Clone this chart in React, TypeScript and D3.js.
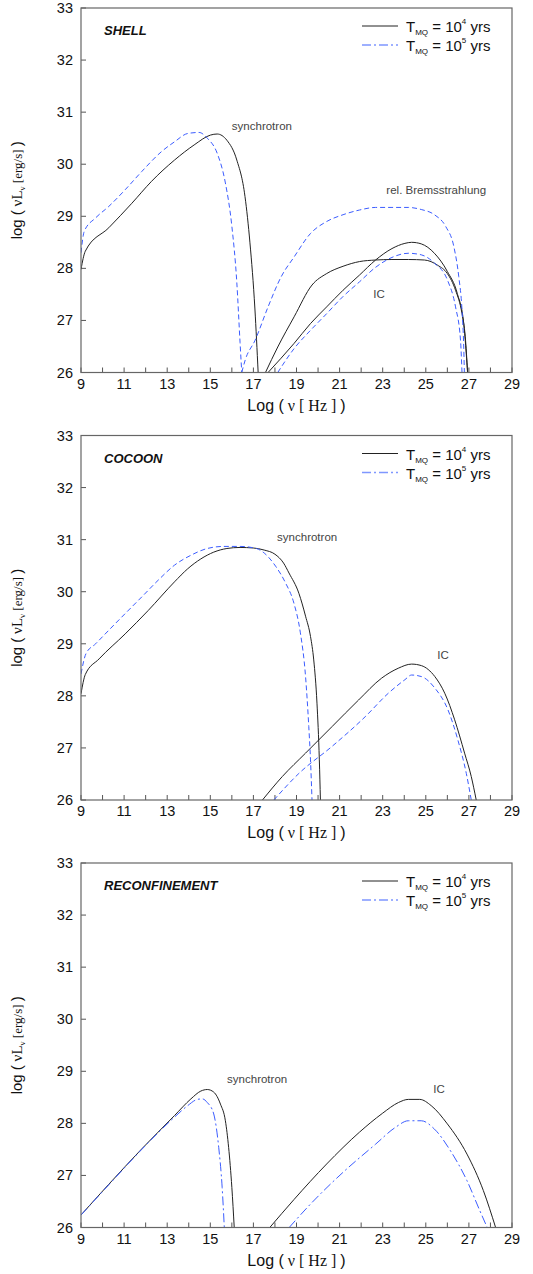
import React from "react";
import * as d3 from "d3";

// axis values
const xTickLabels = [9, 11, 13, 15, 17, 19, 21, 23, 25, 27, 29];
const yTickLabels = [26, 27, 28, 29, 30, 31, 32, 33];

// SHELL panel: [log nu, log nuL_nu]
const shellSync4: [number, number][] = [
  [9, 27.98], [9.2, 28.33], [10.29, 28.78], [11.36, 29.25], [12.27, 29.67], [13.34, 30.08],
  [14.25, 30.37], [15.01, 30.56], [15.32, 30.58], [15.77, 30.46], [16.23, 30.08],
  [16.61, 29.38], [16.84, 28.49], [17.07, 27.22], [17.22, 26.0],
];
const shellSync5: [number, number][] = [
  [9, 28.3], [9.15, 28.71], [9.68, 28.97], [10.29, 29.19], [11.05, 29.51], [11.82, 29.86],
  [12.73, 30.24], [13.34, 30.43], [13.95, 30.59], [14.48, 30.61], [14.86, 30.5],
  [15.32, 30.21], [15.7, 29.64], [16.0, 28.81], [16.23, 27.73], [16.38, 26.58], [16.46, 26.0],
];
const shellBrems4: [number, number][] = [
  [17.56, 26.0], [18.13, 26.49], [18.89, 27.07], [19.72, 27.68], [20.4, 27.9], [21.16, 28.04],
  [21.92, 28.13], [22.67, 28.16], [23.43, 28.17], [24.19, 28.17], [24.94, 28.16],
  [25.55, 28.06], [26.0, 27.9], [26.38, 27.58], [26.68, 27.13], [26.83, 26.69], [26.94, 26.0],
];
const shellBrems5: [number, number][] = [
  [16.46, 26.0], [16.62, 26.24], [17.08, 26.62], [17.68, 27.26], [18.29, 27.84], [18.89, 28.22],
  [19.65, 28.67], [20.4, 28.9], [21.16, 29.03], [21.92, 29.12], [22.67, 29.17], [23.43, 29.17],
  [24.19, 29.17], [24.79, 29.13], [25.4, 29.03], [25.93, 28.8], [26.3, 28.42], [26.53, 27.84],
  [26.68, 27.2], [26.76, 26.49], [26.79, 26.0],
];
const shellIC4: [number, number][] = [
  [17.68, 26.0], [18.89, 26.56], [19.65, 26.94], [20.4, 27.26], [21.16, 27.58], [21.92, 27.87],
  [22.67, 28.16], [23.43, 28.38], [24.03, 28.48], [24.34, 28.5], [24.79, 28.47], [25.4, 28.29],
  [26.0, 27.94], [26.46, 27.52], [26.76, 26.94], [26.94, 26.0],
];
const shellIC5: [number, number][] = [
  [18.13, 26.0], [18.89, 26.46], [19.65, 26.81], [20.4, 27.13], [21.16, 27.46], [21.92, 27.74],
  [22.67, 28.02], [23.43, 28.21], [24.19, 28.29], [24.79, 28.26], [25.4, 28.1], [26.0, 27.78],
  [26.38, 27.26], [26.61, 26.62], [26.68, 26.0],
];

// COCOON panel
const cocoonSync4: [number, number][] = [
  [9, 28.04], [9.2, 28.41], [9.84, 28.71], [11.05, 29.19], [12.12, 29.64], [13.34, 30.19],
  [13.95, 30.44], [14.56, 30.63], [15.16, 30.76], [15.77, 30.83], [16.38, 30.85],
  [16.99, 30.84], [17.5, 30.8], [18.0, 30.72], [18.4, 30.55], [18.65, 30.36], [19.11, 29.97],
  [19.42, 29.53], [19.65, 29.14], [19.8, 28.69], [19.95, 27.86], [20.06, 26.77], [20.11, 26.0],
];
const cocoonSync5: [number, number][] = [
  [9, 28.42], [9.23, 28.81], [9.68, 29.0], [10.29, 29.26], [11.05, 29.58], [11.82, 29.9],
  [12.58, 30.22], [13.34, 30.51], [14.1, 30.7], [14.86, 30.83], [15.62, 30.87], [16.38, 30.87],
  [17.14, 30.83], [17.45, 30.76], [18.03, 30.49], [18.49, 30.17], [18.88, 29.78],
  [19.18, 29.21], [19.42, 28.37], [19.57, 27.41], [19.65, 26.77], [19.72, 26.0],
];
const cocoonIC4: [number, number][] = [
  [17.42, 26.0], [18.34, 26.45], [19.42, 26.9], [20.65, 27.41], [21.88, 27.92], [22.95, 28.34],
  [23.72, 28.53], [24.34, 28.61], [24.8, 28.58], [25.42, 28.37], [25.88, 28.05],
  [26.34, 27.54], [26.8, 26.9], [27.11, 26.45], [27.34, 26.0],
];
const cocoonIC5: [number, number][] = [
  [17.95, 26.0], [19.11, 26.51], [20.65, 27.03], [22.19, 27.6], [23.26, 28.05], [24.03, 28.31],
  [24.34, 28.4], [24.8, 28.37], [25.42, 28.15], [26.03, 27.73], [26.49, 27.15],
  [26.88, 26.51], [27.11, 26.0],
];

// RECONFINEMENT panel
const reconfSync4: [number, number][] = [
  [9, 26.24], [10.29, 26.83], [11.82, 27.51], [13.34, 28.15], [14.1, 28.47], [14.56, 28.62],
  [14.86, 28.65], [15.16, 28.6], [15.47, 28.37], [15.7, 28.05], [15.85, 27.54], [16.0, 26.77],
  [16.11, 26.0],
];
const reconfSync5: [number, number][] = [
  [9, 26.24], [10.29, 26.82], [11.82, 27.5], [13.34, 28.12], [13.95, 28.34], [14.4, 28.46],
  [14.63, 28.47], [14.86, 28.4], [15.16, 28.18], [15.39, 27.54], [15.55, 26.77], [15.65, 26.0],
];
const reconfIC4: [number, number][] = [
  [17.76, 26.0], [18.89, 26.54], [20.4, 27.22], [21.92, 27.83], [22.98, 28.19], [23.73, 28.4],
  [24.19, 28.46], [24.72, 28.46], [25.25, 28.34], [26.0, 27.99], [26.91, 27.41],
  [27.67, 26.71], [28.24, 26.0],
];
const reconfIC5: [number, number][] = [
  [18.66, 26.0], [19.65, 26.45], [21.16, 27.06], [22.67, 27.6], [23.58, 27.92], [24.19, 28.05],
  [24.79, 28.05], [25.4, 27.89], [26.15, 27.47], [26.91, 26.9], [27.51, 26.32], [27.85, 26.0],
];

const left = 81;
const right = 512;
const plotH = 364.5;
const black = "#222";
const blue = "#3b5cff";

type Note = { text: string; x: number; y: number };
type Panel = {
  title: string;
  top: number;
  t4: [number, number][][];
  t5: [number, number][][];
  dash5: string;
  notes: Note[];
};

const panels: Panel[] = [
  {
    title: "SHELL",
    top: 8,
    t4: [shellSync4, shellBrems4, shellIC4],
    t5: [shellSync5, shellBrems5, shellIC5],
    dash5: "5,3",
    notes: [
      { text: "synchrotron", x: 16.0, y: 30.65 },
      { text: "rel. Bremsstrahlung", x: 23.17, y: 29.42 },
      { text: "IC", x: 22.56, y: 27.44 },
    ],
  },
  {
    title: "COCOON",
    top: 435.5,
    t4: [cocoonSync4, cocoonIC4],
    t5: [cocoonSync5, cocoonIC5],
    dash5: "5,3",
    notes: [
      { text: "synchrotron", x: 18.1, y: 30.98 },
      { text: "IC", x: 25.53, y: 28.7 },
    ],
  },
  {
    title: "RECONFINEMENT",
    top: 863,
    t4: [reconfSync4, reconfIC4],
    t5: [reconfSync5, reconfIC5],
    dash5: "9,3,2,3",
    notes: [
      { text: "synchrotron", x: 15.78, y: 28.77 },
      { text: "IC", x: 25.35, y: 28.58 },
    ],
  },
];

const sans = "'Liberation Sans', Arial, sans-serif";
const serif = "'Liberation Serif', 'DejaVu Serif', serif";

const PanelChart = ({ p, idx }: { p: Panel; idx: number }) => {
  const x = d3.scaleLinear().domain([9, 29]).range([left, right]);
  const y = d3.scaleLinear().domain([26, 33]).range([p.top + plotH, p.top]);
  const line = d3
    .line<[number, number]>()
    .x((d) => x(d[0]))
    .y((d) => y(d[1]))
    .curve(d3.curveMonotoneX);
  const bottom = p.top + plotH;
  const clipId = `clip${idx}`;
  const minorX = d3.range(9, 30, 1);
  const legendY = [p.top + 18, p.top + 37];

  return (
    <g>
      <defs>
        <clipPath id={clipId}>
          <rect x={left} y={p.top} width={right - left} height={plotH} />
        </clipPath>
      </defs>
      {/* ticks */}
      {minorX.map((v) => (
        <line key={"xt" + v} x1={x(v)} x2={x(v)} y1={bottom} y2={bottom - 5} stroke="#555" />
      ))}
      {yTickLabels.map((v) => (
        <line key={"yt" + v} x1={left} x2={left + 5} y1={y(v)} y2={y(v)} stroke="#555" />
      ))}
      {xTickLabels.map((v) => (
        <text key={"xl" + v} x={x(v)} y={bottom + 16} textAnchor="middle" fontSize={14.5} fontFamily={sans} fill="#111">
          {v}
        </text>
      ))}
      {yTickLabels.map((v) => (
        <text key={"yl" + v} x={left - 8} y={y(v) + 5} textAnchor="end" fontSize={14.5} fontFamily={sans} fill="#111">
          {v}
        </text>
      ))}
      {/* curves */}
      <g clipPath={`url(#${clipId})`}>
        {p.t4.map((s, i) => (
          <path key={"a" + i} d={line(s) || ""} fill="none" stroke={black} strokeWidth={1} />
        ))}
        {p.t5.map((s, i) => (
          <path key={"b" + i} d={line(s) || ""} fill="none" stroke={blue} strokeWidth={1} strokeDasharray={p.dash5} />
        ))}
      </g>
      <rect x={left} y={p.top} width={right - left} height={plotH} fill="none" stroke="#666" strokeWidth={1.2} />
      {/* title */}
      <text x={104} y={p.top + 27} fontSize={13} fontStyle="italic" fontWeight="bold" fontFamily={sans} fill="#111">
        {p.title}
      </text>
      {p.notes.map((n) => (
        <text key={n.text} x={x(n.x)} y={y(n.y)} fontSize={11.5} fontFamily={sans} fill="#444">
          {n.text}
        </text>
      ))}
      {/* legend */}
      <line x1={362} x2={398} y1={legendY[0]} y2={legendY[0]} stroke={black} strokeWidth={1} />
      <line x1={362} x2={398} y1={legendY[1]} y2={legendY[1]} stroke="#7f97ff" strokeWidth={1.5} strokeDasharray="9,3,2,3" />
      {[4, 5].map((e, i) => (
        <text key={"lg" + e} x={406} y={legendY[i] + 6} fontSize={15} fontFamily={sans} fill="#111">
          T<tspan fontSize={8} dy={3}>MQ</tspan>
          <tspan dy={-3}> = 10</tspan>
          <tspan fontSize={8} dy={-8}>{e}</tspan>
          <tspan dy={8}> yrs</tspan>
        </text>
      ))}
      {/* axis titles */}
      <text x={(left + right) / 2} y={bottom + 38} textAnchor="middle" fontSize={16} fontFamily={sans} fill="#111">
        Log (<tspan fontFamily={serif}> ν [ Hz ] </tspan>)
      </text>
      <text
        transform={`translate(22,${p.top + plotH / 2}) rotate(-90)`}
        textAnchor="middle"
        fontSize={15}
        fontFamily={sans}
        fill="#111"
      >
        log (<tspan fontFamily={serif}> νL</tspan>
        <tspan fontFamily={serif} fontSize={9} dy={3}>ν</tspan>
        <tspan fontFamily={serif} fontSize={13} dy={-3}> [erg/s] </tspan>)
      </text>
    </g>
  );
};

export default function App() {
  return (
    <svg
      width={533}
      height={1274}
      viewBox="0 0 533 1274"
      style={{ position: "absolute", left: 0, top: 0, background: "#fff" }}
    >
      <rect width={533} height={1274} fill="#fff" />
      {panels.map((p, i) => (
        <PanelChart key={p.title} p={p} idx={i} />
      ))}
    </svg>
  );
}
